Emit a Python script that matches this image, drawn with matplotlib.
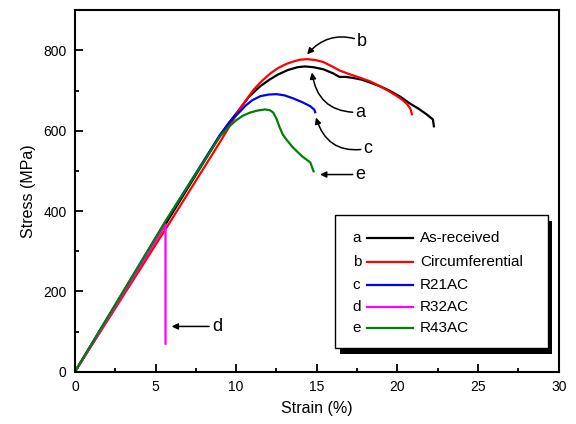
import matplotlib
matplotlib.use("Agg")
import matplotlib.pyplot as plt
from matplotlib.patches import Rectangle
from matplotlib.ticker import MultipleLocator

plt.rcParams['font.family'] = ['Liberation Sans', 'DejaVu Sans']

# stress-strain curves
strain_a = [0, 5.8, 9.0, 9.6, 10.2, 10.8, 11.5, 12.1, 12.6, 13.2, 13.8, 14.26, 14.8, 15.4, 16.0,
            16.4, 16.8, 17.3, 17.8, 18.3, 18.9, 19.5, 20.2, 20.8, 21.3, 21.8, 22.2, 22.26]
stress_a = [0, 379, 588, 622, 653, 685, 711, 728, 740, 751, 758, 760, 758, 753, 743,
            734, 734, 731, 727, 720, 711, 700, 684, 667, 655, 641, 628, 611]

strain_b = [0, 6.0, 9.0, 9.6, 10.2, 10.65, 11.1, 11.6, 12.1, 12.6, 13.1, 13.6, 14.0, 14.4, 14.9,
            15.4, 16.0, 16.4, 17.0, 17.6, 18.3, 18.9, 19.4, 19.9, 20.3, 20.6, 20.8, 20.9]
stress_b = [0, 379, 572, 612, 653, 678, 703, 724, 742, 756, 766, 773, 777, 778, 776,
            771, 759, 750, 741, 733, 723, 711, 700, 688, 677, 666, 655, 641]

strain_c = [0, 5.7, 9.0, 9.6, 10.2, 10.6, 11.0, 11.5, 12.0, 12.5, 13.0, 13.5, 14.1, 14.6, 14.85, 14.9]
stress_c = [0, 379, 590, 622, 646, 663, 676, 686, 690, 691, 688, 681, 671, 661, 652, 646]

strain_d = [0, 5.62, 5.62]
stress_d = [0, 367, 70]

strain_e = [0, 5.68, 9.0, 9.5, 10.0, 10.4, 10.85, 11.3, 11.8, 12.1, 12.3, 12.5, 12.7, 12.9,
            13.1, 13.5, 14.1, 14.6, 14.8]
stress_e = [0, 379, 586, 608, 626, 637, 645, 650, 653, 651, 645, 630, 608, 590,
            579, 559, 536, 521, 499]

letters = ['a', 'b', 'c', 'd', 'e']
names = ['As-received', 'Circumferential', 'R21AC', 'R32AC', 'R43AC']
colors = ['black', 'red', 'blue', 'magenta', 'green']

fig = plt.figure(figsize=(5.76, 4.24), dpi=100)
ax = fig.add_axes([0.130, 0.123, 0.840, 0.853])

curves = [(strain_a, stress_a), (strain_b, stress_b), (strain_c, stress_c),
          (strain_d, stress_d), (strain_e, stress_e)]
for (x, y), c in zip(curves, colors):
    ax.plot(x, y, color=c, lw=1.6)

ax.set_xlim(0, 30)
ax.set_ylim(0, 900)
ax.xaxis.set_major_locator(MultipleLocator(5))
ax.xaxis.set_minor_locator(MultipleLocator(2.5))
ax.yaxis.set_major_locator(MultipleLocator(200))
ax.yaxis.set_minor_locator(MultipleLocator(100))
ax.tick_params(which='both', direction='in', width=1.3, labelsize=10, pad=6)
ax.tick_params(which='major', length=6)
ax.tick_params(which='minor', length=3)
for s in ax.spines.values():
    s.set_linewidth(1.5)

ax.set_xlabel('Strain (%)', fontsize=11.5, labelpad=5)
ax.set_ylabel('Stress (MPa)', fontsize=11.5, labelpad=5)

# curved arrows pointing at each curve
arrow = dict(arrowstyle='-|>', color='black', lw=1.1, mutation_scale=9, shrinkA=0, shrinkB=0)
ax.annotate('b', xy=(14.4, 790), xytext=(17.5, 823), fontsize=13, va='center',
            arrowprops=dict(arrow, connectionstyle='arc3,rad=0.35'))
ax.annotate('a', xy=(14.7, 745), xytext=(17.4, 646), fontsize=13, va='center',
            arrowprops=dict(arrow, connectionstyle='arc3,rad=-0.45'))
ax.annotate('c', xy=(14.95, 633), xytext=(17.9, 556), fontsize=13, va='center',
            arrowprops=dict(arrow, connectionstyle='arc3,rad=-0.45'))
ax.annotate('e', xy=(15.2, 491), xytext=(17.4, 491), fontsize=13, va='center',
            arrowprops=dict(arrow))
ax.annotate('d', xy=(6.0, 113), xytext=(8.5, 113), fontsize=13, va='center',
            arrowprops=dict(arrow))

# legend box with solid shadow
tr = ax.transAxes
ax.add_patch(Rectangle((0.547, 0.050), 0.440, 0.368, transform=tr, facecolor='black',
                       edgecolor='none', zorder=5, clip_on=False))
ax.add_patch(Rectangle((0.537, 0.066), 0.440, 0.368, transform=tr, facecolor='white',
                       edgecolor='black', lw=1.0, zorder=6, clip_on=False))
row_y = [0.370, 0.304, 0.240, 0.180, 0.122]
for yy, let, name, c in zip(row_y, letters, names, colors):
    ax.text(0.574, yy, let, transform=tr, fontsize=11, va='center', zorder=7)
    ax.plot([0.603, 0.698], [yy, yy], transform=tr, color=c, lw=1.6, zorder=7, clip_on=False)
    ax.text(0.713, yy, name, transform=tr, fontsize=11, va='center', zorder=7)

fig.savefig('out.png', dpi=100)
